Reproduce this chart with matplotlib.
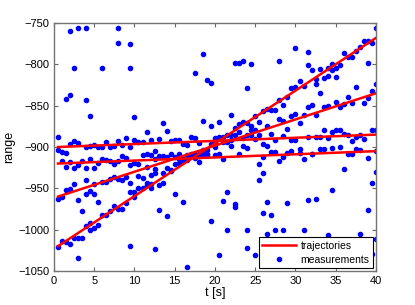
import numpy as np
import matplotlib
matplotlib.use('Agg')
import matplotlib.pyplot as plt

# true trajectories (straight lines), start/end values
traj_t = [0.5, 40]
traj_start = [-900, -920, -960, -1020]
traj_end = [-885, -905, -835, -768]

scan_t = [0.5, 1, 1.5, 2, 2.5, 3, 3.5, 4, 4.5, 5, 5.5, 6, 6.5, 7, 7.5, 8, 8.5, 9, 9.5, 10,
          10.5, 11, 11.5, 12, 12.5, 13, 13.5, 14, 14.5, 15, 15.5, 16, 16.5, 17, 17.5, 18, 18.5, 19, 19.5, 20,
          20.5, 21, 21.5, 22, 22.5, 23, 23.5, 24, 24.5, 25, 25.5, 26, 26.5, 27, 27.5, 28, 28.5, 29, 29.5, 30,
          30.5, 31, 31.5, 32, 32.5, 33, 33.5, 34, 34.5, 35, 35.5, 36, 36.5, 37, 37.5, 38, 38.5, 39, 39.5, 40]
scan_r = [
    [-888, -904, -963, -1021],
    [-906, -917, -960, -1014],
    [-842, -907, -924, -952, -1015],
    [-760, -837, -896, -918, -951, -1017],
    [-805, -893, -925, -945, -1010],
    [-756, -895, -922, -964, -1010, -1034],
    [-917, -978, -1010],
    [-756, -843, -900, -925, -940, -957, -996],
    [-863, -899, -914, -953, -992, -1000],
    [-898, -925, -945, -957, -998],
    [-900, -919, -967, -994],
    [-805, -900, -914, -942, -982],
    [-894, -916, -942, -982],
    [-900, -917, -939, -978],
    [-899, -921, -936, -971],
    [-756, -774, -893, -917, -939, -975],
    [-897, -911, -940, -975],
    [-889, -913, -936, -968],
    [-775, -805, -900, -922, -944, -955, -1020],
    [-864, -892, -919, -955, -961],
    [-894, -921, -935, -950],
    [-894, -910, -938, -950],
    [-882, -909, -924, -944, -946],
    [-892, -910, -934, -945, -949],
    [-905, -915, -932, -926, -1023],
    [-890, -911, -946, -976],
    [-871, -911, -932, -944],
    [-881, -912, -925, -984],
    [-893, -908, -928, -929],
    [-892, -912, -920, -957],
    [-892, -908, -914, -919],
    [-896, -914, -916, -967],
    [-897, -910, -916, -1045],
    [-888, -910, -909],
    [-811, -889, -908, -913],
    [-895, -909, -918, -911],
    [-787, -868, -904, -909],
    [-819, -904, -908, -910],
    [-822, -874, -896, -990],
    [-889, -894, -910, -900],
    [-870, -888, -908, -1031],
    [-888, -894, -914, -965],
    [-886, -894, -954, -1001],
    [-861, -885, -891, -899],
    [-798, -877, -885, -969, -973],
    [-798, -872, -908, -882],
    [-796, -870, -889, -899],
    [-829, -871, -886, -901, -1000, -1022],
    [-799, -874, -880, -886],
    [-862, -880, -890, -1031],
    [-870, -886, -921, -940],
    [-857, -896, -912, -931, -980],
    [-854, -874, -899, -966, -1005],
    [-855, -884, -906, -982],
    [-855, -892, -906, -1000],
    [-796, -843, -866, -917],
    [-849, -868, -887, -912, -1000],
    [-839, -878, -907, -968],
    [-829, -863, -891, -905],
    [-780, -828, -860, -892],
    [-820, -871, -902, -907],
    [-826, -861, -914, -1000],
    [-785, -801, -852, -888, -964],
    [-807, -849, -908, -909],
    [-818, -824, -861, -888, -963],
    [-806, -835, -888, -902],
    [-816, -851, -880, -902],
    [-805, -814, -850, -889, -1007],
    [-799, -807, -882, -952, -901],
    [-804, -815, -846, -880],
    [-801, -852, -880, -900],
    [-786, -848, -884, -926],
    [-791, -839, -886, -908],
    [-791, -847, -893, -908],
    [-784, -828, -888, -903],
    [-779, -886, -904, -1005],
    [-772, -847, -890, -1016],
    [-772, -798, -841, -913, -976],
    [-774, -832, -879, -944, -1030],
    [-756, -824, -879, -905, -930, -1011],
]

meas_t = [t for t, rs in zip(scan_t, scan_r) for _ in rs]
meas_r = [r for rs in scan_r for r in rs]

plt.rcParams['font.family'] = ['Liberation Sans', 'DejaVu Sans']

fig = plt.figure(figsize=(4.15, 3.05), dpi=100)
ax = fig.add_axes([0.130, 0.1115, 0.776, 0.813])

for k in range(len(traj_start)):
    ax.plot(traj_t, [traj_start[k], traj_end[k]], color='red', lw=1.8,
            label='trajectories' if k == 0 else None, zorder=3)
ax.plot(meas_t, meas_r, '.', color='blue', ms=6, label='measurements', zorder=2)

ax.set_xlim(0, 40)
ax.set_ylim(-1050, -750)
ax.set_xticks(np.arange(0, 41, 5))
ax.set_yticks(np.arange(-1050, -749, 50))
ax.tick_params(direction='in', top=True, right=True, labelsize=8, length=3,
               color='0.4', width=0.8)
for s in ax.spines.values():
    s.set_color('0.45')
    s.set_linewidth(1.0)
ax.set_xlabel('t [s]', fontsize=9, labelpad=1)
ax.set_ylabel('range', fontsize=9, labelpad=2)

leg = ax.legend(loc='lower right', fontsize=7.5, fancybox=False, framealpha=1,
                edgecolor='black', borderaxespad=0.3, handlelength=3.2,
                borderpad=0.3, labelspacing=0.4, handletextpad=0.5)
leg.get_frame().set_linewidth(0.8)

fig.savefig('out.png', dpi=100)
